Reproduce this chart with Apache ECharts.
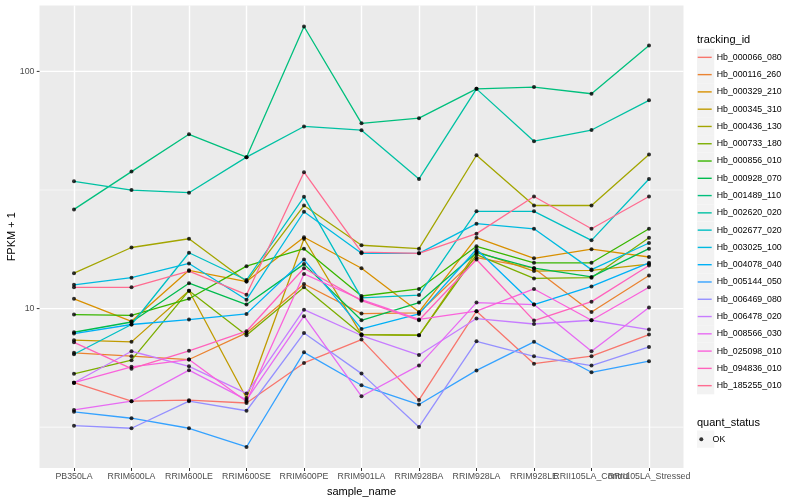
<!DOCTYPE html>
<html>
<head>
<meta charset="utf-8">
<script src="https://cdn.jsdelivr.net/npm/echarts@6/dist/echarts.min.js"></script>
<style>html,body{margin:0;padding:0;background:#fff}#c{width:800px;height:500px}</style>
</head>
<body>
<div id="c"></div>
<script>
// ---------- data ----------
const categories = ['PB350LA','RRIM600LA','RRIM600LE','RRIM600SE','RRIM600PE','RRIM901LA','RRIM928BA','RRIM928LA','RRIM928LE','RRII105LA_Control','RRII105LA_Stressed'];

const Hb_000066_080 = [4.87, 4.07, 4.11, 4.0, 5.90, 7.40, 4.12, 9.75, 5.86, 6.30, 7.77];
const Hb_000116_260 = [6.51, 6.30, 6.10, 7.9, 12.7, 9.53, 9.6, 16.4, 14.8, 9.68, 13.8];
const Hb_000329_210 = [11.0, 8.84, 14.5, 13.0, 20.0, 14.8, 9.68, 19.9, 16.3, 17.8, 16.5];
const Hb_000345_310 = [7.36, 7.24, 11.9, 4.2, 19.7, 7.77, 7.72, 17.4, 14.4, 14.5, 15.4];
const Hb_000436_130 = [14.1, 18.1, 19.7, 13.0, 27.2, 18.5, 17.9, 44.3, 27.2, 27.2, 44.6];
const Hb_000733_180 = [5.31, 6.06, 11.9, 7.72, 12.3, 7.77, 7.72, 16.9, 13.4, 13.5, 19.9];
const Hb_000856_010 = [9.44, 9.37, 11.0, 15.1, 17.9, 11.3, 12.1, 18.3, 15.6, 15.6, 21.7];
const Hb_000928_070 = [7.95, 8.78, 12.8, 10.4, 15.4, 8.93, 10.6, 17.2, 14.8, 13.6, 17.9];
const Hb_001489_110 = [26.2, 37.8, 54.3, 43.5, 154.6, 60.4, 63.5, 84.4, 85.9, 80.5, 128.5];
const Hb_002620_020 = [34.4, 31.6, 30.8, 43.5, 58.6, 56.5, 35.2, 84.4, 50.8, 56.6, 75.5];
const Hb_002677_020 = [6.42, 8.57, 17.2, 13.2, 29.6, 11.1, 11.4, 25.7, 25.7, 19.4, 35.2];
const Hb_003025_100 = [12.6, 13.5, 15.5, 10.9, 25.6, 17.1, 17.1, 22.8, 21.7, 14.6, 18.9];
const Hb_004078_040 = [7.85, 8.57, 8.99, 9.5, 16.1, 8.21, 9.5, 17.8, 10.4, 12.4, 15.6];
const Hb_005144_050 = [3.67, 3.45, 3.13, 2.61, 6.54, 4.75, 3.94, 5.49, 7.24, 5.39, 6.0];
const Hb_006469_080 = [3.21, 3.13, 4.07, 3.71, 7.89, 5.32, 3.17, 7.28, 6.29, 5.75, 6.89];
const Hb_006478_020 = [4.87, 6.61, 5.71, 4.39, 9.9, 7.70, 6.37, 9.08, 8.61, 8.93, 8.16];
const Hb_008566_030 = [3.74, 4.07, 5.5, 4.12, 9.29, 4.27, 5.76, 10.6, 10.4, 6.61, 10.1];
const Hb_025098_010 = [4.87, 5.68, 6.10, 4.06, 14.0, 10.9, 9.0, 9.75, 12.1, 8.93, 12.3];
const Hb_094836_010 = [7.21, 5.58, 6.64, 8.03, 14.8, 10.8, 8.93, 16.1, 8.9, 10.7, 15.2];
const Hb_185255_010 = [12.3, 12.3, 14.4, 11.45, 37.6, 17.3, 17.1, 20.7, 29.7, 21.7, 29.7];

const trackingIds = ['Hb_000066_080','Hb_000116_260','Hb_000329_210','Hb_000345_310','Hb_000436_130','Hb_000733_180','Hb_000856_010','Hb_000928_070','Hb_001489_110','Hb_002620_020','Hb_002677_020','Hb_003025_100','Hb_004078_040','Hb_005144_050','Hb_006469_080','Hb_006478_020','Hb_008566_030','Hb_025098_010','Hb_094836_010','Hb_185255_010'];
const seriesValues = [Hb_000066_080,Hb_000116_260,Hb_000329_210,Hb_000345_310,Hb_000436_130,Hb_000733_180,Hb_000856_010,Hb_000928_070,Hb_001489_110,Hb_002620_020,Hb_002677_020,Hb_003025_100,Hb_004078_040,Hb_005144_050,Hb_006469_080,Hb_006478_020,Hb_008566_030,Hb_025098_010,Hb_094836_010,Hb_185255_010];
const quantStatus = ['OK'];
const yTickLabels = [10, 100];
const yMinorBreaks = [Math.sqrt(10), Math.sqrt(1000)];

// ---------- styles ----------
const palette = ['#F8766D','#EA8331','#D89000','#C09B00','#A3A500','#7CAE00','#39B600','#00BB4E','#00BF7D','#00C1A3','#00BFC4','#00BAE0','#00B0F6','#35A2FF','#9590FF','#C77CFF','#E76BF3','#FA62DB','#FF62BC','#FF6C91'];
const FONT = '"Liberation Sans", Arial, Helvetica, sans-serif';
const EXPAND = 0.6; // discrete-axis expansion (in category steps), like ggplot

// log-scale range with 5% expansion (like ggplot)
const allVals = [].concat(...seriesValues);
const lo = Math.log10(Math.min(...allVals)), hi = Math.log10(Math.max(...allVals));
const pad = 0.05 * (hi - lo);
const YMIN = Math.pow(10, lo - pad), YMAX = Math.pow(10, hi + pad);

const isMajor = v => yTickLabels.some(t => Math.abs(v - t) / t < 1e-6);

const lineSeries = trackingIds.map((name, k) => ({
  name, type: 'line', yAxisIndex: 0,
  data: seriesValues[k],
  color: palette[k],
  showSymbol: false, symbol: 'none',
  lineStyle: {color: palette[k], width: 1.3},
  itemStyle: {color: palette[k]},
  silent: true, z: 2,
  emphasis: {disabled: true}
}));

const pointData = [];
seriesValues.forEach(arr => arr.forEach((v, i) => pointData.push([i, v])));

// panel background, horizontal gridlines and y tick marks, placed via the axes' scales
// kind: 0 = panel, 1 = minor break, 2 = major break, 3 = y tick mark
const panelData = [[0, YMIN, 0]]
  .concat(yMinorBreaks.map(v => [0, v, 1]))
  .concat(yTickLabels.map(v => [0, v, 2]))
  .concat(yTickLabels.map(v => [0, v, 3]));
const panelSeries = {
  type: 'custom', yAxisIndex: 0, silent: true, z: 0, clip: false, data: panelData,
  encode: {x: 0, y: 1},
  renderItem: (params, api) => {
    const item = panelData[params.dataIndex];
    const v = item[1], kind = item[2];
    const n = categories.length;
    const a = api.coord([0, v]), b = api.coord([n - 1, v]);
    const step = (b[0] - a[0]) / (n - 1);
    const x0 = a[0] - EXPAND * step, x1 = b[0] + EXPAND * step;
    if (kind === 0) {
      const top = api.coord([0, YMAX])[1], bottom = api.coord([0, YMIN])[1];
      return {type: 'rect', z2: 0, shape: {x: x0, y: top, width: x1 - x0, height: bottom - top}, style: {fill: '#EBEBEB'}};
    }
    if (kind === 3) {
      return {type: 'rect', z2: 3, shape: {x: x0 - 2.75, y: a[1] - 0.5, width: 2.75, height: 1}, style: {fill: '#333333'}};
    }
    const w = kind === 2 ? 1.4 : 0.7;
    return {type: 'rect', z2: kind, shape: {x: x0, y: a[1] - w / 2, width: x1 - x0, height: w}, style: {fill: '#ffffff'}};
  }
};

const legendText = {fontSize: 8.8, lineHeight: 17.28, color: '#000', fontFamily: FONT};

const option = {
  animation: false,
  backgroundColor: '#ffffff',
  textStyle: {fontFamily: FONT},
  title: [
    {text: 'tracking_id', left: 697, top: 34, padding: 0, textStyle: {fontSize: 11, fontWeight: 'normal', color: '#000', fontFamily: FONT}},
    {text: 'quant_status', left: 697, top: 417, padding: 0, textStyle: {fontSize: 11, fontWeight: 'normal', color: '#000', fontFamily: FONT}}
  ],
  grid: {left: 74, right: 151, top: 5.5, bottom: 32, show: false, containLabel: false, outerBoundsMode: 'none'},
  xAxis: {type: 'category', data: categories, boundaryGap: false, z: 1,
    axisLine: {show: false},
    axisTick: {show: true, length: 3, alignWithLabel: true, lineStyle: {color: '#333333', width: 1}},
    axisLabel: {interval: 0, fontSize: 8.8, color: '#4D4D4D', margin: 4.5, fontFamily: FONT},
    splitLine: {show: true, lineStyle: {color: '#ffffff', width: 1.4}},
    name: 'sample_name', nameLocation: 'middle', nameGap: 14,
    nameTextStyle: {fontSize: 11, color: '#000', fontFamily: FONT}},
  yAxis: [
    {type: 'log', logBase: 10, min: YMIN, max: YMAX, z: 1, offset: 34.5, position: 'left',
      axisLine: {show: false},
      axisTick: {show: false},
      axisLabel: {showMinLabel: false, showMaxLabel: false, fontSize: 8.8, color: '#4D4D4D', margin: 5, fontFamily: FONT,
        formatter: v => isMajor(v) ? String(Math.round(v)) : ''},
      splitLine: {show: false}},
    // carries only the axis title
    {type: 'log', logBase: 10, min: YMIN, max: YMAX, z: 1, offset: 0, position: 'left',
      axisLine: {show: false}, axisTick: {show: false}, axisLabel: {show: false}, splitLine: {show: false},
      name: 'FPKM + 1', nameLocation: 'middle', nameGap: 56.5,
      nameTextStyle: {fontSize: 11, color: '#000', fontFamily: FONT}}
  ],
  legend: [
    {orient: 'vertical', left: 697, top: 48.7, padding: 0, itemGap: 0, itemWidth: 17.28, itemHeight: 17.28,
      icon: 'rect', selectedMode: false, z: 4, formatter: () => '',
      itemStyle: {borderWidth: 0},
      textStyle: {fontSize: 8.8, lineHeight: 17.28},
      data: trackingIds.map(n => ({name: n, itemStyle: {color: '#F2F2F2', borderWidth: 0}}))},
    {orient: 'vertical', left: 697.7, top: 48.7, padding: 0, itemGap: 0, itemWidth: 14, itemHeight: 1.4,
      icon: 'rect', selectedMode: false, z: 5, itemStyle: {borderWidth: 0},
      textStyle: legendText, data: trackingIds},
    {orient: 'vertical', left: 697, top: 430.5, padding: 0, itemGap: 0, itemWidth: 17.28, itemHeight: 17.28,
      icon: 'rect', selectedMode: false, z: 4, formatter: () => '',
      itemStyle: {borderWidth: 0},
      textStyle: {fontSize: 8.8, lineHeight: 17.28},
      data: quantStatus.map(n => ({name: n, itemStyle: {color: '#F2F2F2', borderWidth: 0}}))},
    {orient: 'vertical', left: 699.3, top: 430.5, padding: 0, itemGap: 0, itemWidth: 12.6, itemHeight: 4,
      icon: 'circle', selectedMode: false, z: 5, itemStyle: {borderWidth: 0},
      textStyle: legendText, data: quantStatus}
  ],
  series: [panelSeries].concat(lineSeries, [{
    name: 'OK', type: 'scatter', yAxisIndex: 0,
    data: pointData, symbol: 'circle', symbolSize: 4,
    itemStyle: {color: '#000000'}, silent: true, z: 3,
    emphasis: {disabled: true}
  }])
};

const chart = echarts.init(document.getElementById('c'), null, {renderer: 'canvas'});
chart.setOption(option);
</script>
</body>
</html>
